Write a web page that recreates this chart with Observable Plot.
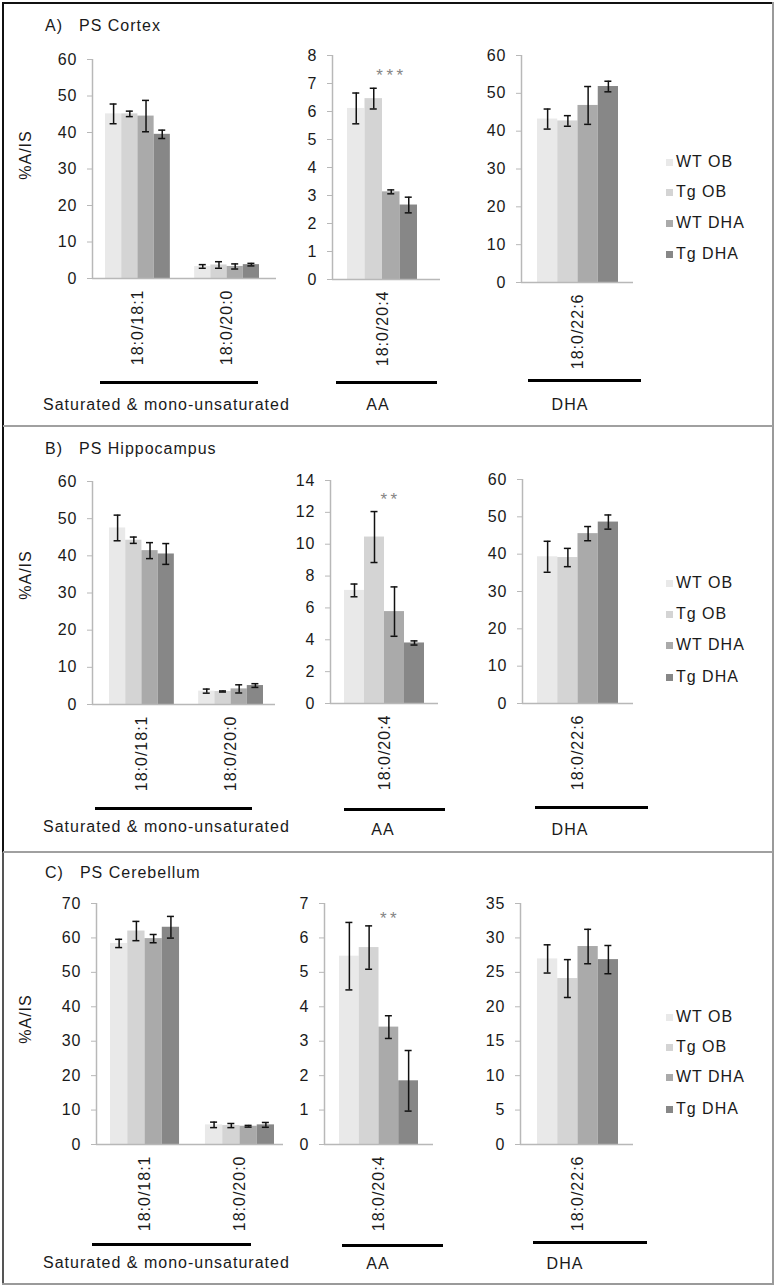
<!DOCTYPE html>
<html>
<head>
<meta charset="utf-8">
<script src="https://cdn.jsdelivr.net/npm/d3@7"></script>
<script src="https://cdn.jsdelivr.net/npm/@observablehq/plot@0.6"></script>
<style>
  html, body { margin: 0; padding: 0; background: #fff; }
  #fig { position: relative; width: 776px; height: 1287px; overflow: hidden; background: #fff;
         font-family: "Liberation Sans", Arial, sans-serif; color: #1a1a1a; }
  .txt { position: absolute; font-size: 16px; line-height: 16px; letter-spacing: 1px; white-space: nowrap; }
  .abs { position: absolute; }
</style>
</head>
<body>
<div id="fig"></div>
<script>
// ---------------- data ----------------
const series = ["WT OB", "Tg OB", "WT DHA", "Tg DHA"];
const seriesColors = ["#e9e9e9", "#d4d4d4", "#aaaaaa", "#878787"];
const panelLetters = ["A)", "B)", "C)"];
const regionNames = ["PS Cortex", "PS Hippocampus", "PS Cerebellum"];
const familyLabels = ["Saturated & mono-unsaturated", "AA", "DHA"];
const yAxisTitle = "%A/IS";
const satSpecies = ["18:0/18:1", "18:0/20:0"];
const aaSpecies = ["18:0/20:4"];
const dhaSpecies = ["18:0/22:6"];
const significance = ["***", "**", "**"];

const cortexTicks = [[0, 10, 20, 30, 40, 50, 60], [0, 1, 2, 3, 4, 5, 6, 7, 8], [0, 10, 20, 30, 40, 50, 60]];
const hippoTicks  = [[0, 10, 20, 30, 40, 50, 60], [0, 2, 4, 6, 8, 10, 12, 14], [0, 10, 20, 30, 40, 50, 60]];
const cerebTicks  = [[0, 10, 20, 30, 40, 50, 60, 70], [0, 1, 2, 3, 4, 5, 6, 7], [0, 5, 10, 15, 20, 25, 30, 35]];

const cortexSatMean = [[45.1, 45.1, 44.5, 39.5], [3.3, 3.7, 3.3, 3.8]];
const cortexSatErr  = [[2.7, 0.75, 4.3, 1.15], [0.5, 0.9, 0.7, 0.35]];
const cortexAAMean  = [[6.11, 6.46, 3.13, 2.66]];
const cortexAAErr   = [[0.55, 0.37, 0.07, 0.28]];
const cortexDHAMean = [[43.2, 42.7, 46.8, 51.8]];
const cortexDHAErr  = [[2.65, 1.4, 5.0, 1.4]];

const hippoSatMean = [[47.5, 44.2, 41.4, 40.5], [3.6, 3.5, 4.2, 5.1]];
const hippoSatErr  = [[3.45, 0.85, 2.15, 2.8], [0.55, 0.15, 1.1, 0.5]];
const hippoAAMean  = [[7.1, 10.45, 5.77, 3.8]];
const hippoAAErr   = [[0.4, 1.6, 1.55, 0.13]];
const hippoDHAMean = [[39.3, 39.1, 45.5, 48.6]];
const hippoDHAErr  = [[4.15, 2.45, 1.9, 1.9]];

const cerebSatMean = [[58.4, 62.0, 59.8, 63.1], [5.7, 5.5, 5.3, 5.7]];
const cerebSatErr  = [[1.2, 2.8, 1.2, 3.15], [0.8, 0.6, 0.25, 0.7]];
const cerebAAMean  = [[5.47, 5.72, 3.41, 1.85]];
const cerebAAErr   = [[0.98, 0.63, 0.33, 0.88]];
const cerebDHAMean = [[26.95, 24.1, 28.75, 26.85]];
const cerebDHAErr  = [[2.05, 2.75, 2.5, 2.05]];

// ---------------- layout (pixels) ----------------
const axisColor = "#b8b8b8";
const textColor = "#1a1a1a";
const FONT = "'Liberation Sans', Arial, sans-serif";

const panelLayout = [
  { titleY: 26, yTitleY: 155, legendY: [162, 192, 223, 254],
    charts: [
      {axisX: 92,  axisEnd: 276, y0: 278, ytop: 59, barStart: 105, barEnd: 259},
      {axisX: 332, axisEnd: 440, y0: 279, ytop: 55, barStart: 347, barEnd: 417, sigDx: 9, sigDy: 13},
      {axisX: 521, axisEnd: 633, y0: 282, ytop: 55, barStart: 537, barEnd: 618}
    ],
    lines: [[100, 258, 382], [336, 437, 382], [528, 641, 380]],
    famLabels: [[43, 405, "start"], [378, 405, "middle"], [570, 405, "middle"]] },
  { titleY: 449, yTitleY: 575, legendY: [583, 614, 645, 677],
    charts: [
      {axisX: 92,  axisEnd: 275, y0: 704, ytop: 481, barStart: 109, barEnd: 263},
      {axisX: 330, axisEnd: 438, y0: 703, ytop: 480, barStart: 344, barEnd: 424, sigDx: 6, sigDy: 12},
      {axisX: 522, axisEnd: 633, y0: 703, ytop: 479, barStart: 537, barEnd: 618}
    ],
    lines: [[95, 252, 808], [344, 445, 809], [535, 648, 807]],
    famLabels: [[43, 827, "start"], [383, 830, "middle"], [570, 830, "middle"]] },
  { titleY: 873, yTitleY: 1019, legendY: [1017, 1047, 1077, 1109],
    charts: [
      {axisX: 96,  axisEnd: 283, y0: 1144, ytop: 903, barStart: 110, barEnd: 274},
      {axisX: 324, axisEnd: 433, y0: 1144, ytop: 903, barStart: 339, barEnd: 418, sigDx: 11, sigDy: 8},
      {axisX: 520, axisEnd: 633, y0: 1144, ytop: 903, barStart: 537, barEnd: 618}
    ],
    lines: [[92, 251, 1244], [342, 443, 1245], [533, 647, 1242]],
    famLabels: [[43, 1263, "start"], [378, 1264, "middle"], [565, 1264, "middle"]] }
];

const panelData = [
  { ticks: cortexTicks, sets: [[satSpecies, cortexSatMean, cortexSatErr], [aaSpecies, cortexAAMean, cortexAAErr], [dhaSpecies, cortexDHAMean, cortexDHAErr]] },
  { ticks: hippoTicks,  sets: [[satSpecies, hippoSatMean, hippoSatErr], [aaSpecies, hippoAAMean, hippoAAErr], [dhaSpecies, hippoDHAMean, hippoDHAErr]] },
  { ticks: cerebTicks,  sets: [[satSpecies, cerebSatMean, cerebSatErr], [aaSpecies, cerebAAMean, cerebAAErr], [dhaSpecies, cerebDHAMean, cerebDHAErr]] }
];

const fig = document.getElementById("fig");

function addDiv(cls, style, text) {
  const d = document.createElement("div");
  d.className = cls;
  Object.assign(d.style, style);
  if (text != null) d.textContent = text;
  fig.appendChild(d);
  return d;
}

function makeChart(species, means, errs, ticks, L, sig) {
  const nS = series.length, gap = 1.5;
  const rows = [];
  species.forEach((sp, gi) => series.forEach((s, si) => {
    rows.push({species: sp, series: s, pos: gi * (nS + gap) + si, mean: means[gi][si], err: errs[gi][si]});
  }));
  const n = species.length * nS + (species.length - 1) * gap;
  const unit = (L.barEnd - L.barStart) / n;
  const padL = (L.barStart - L.axisX) / unit;
  const padR = (L.axisEnd - L.barEnd) / unit;
  const cap = 3.5 / unit;
  const ymax = ticks[ticks.length - 1];
  const ML = 45, MR = 10, MT = 30, MB = 100;
  const w = L.axisEnd - L.axisX, h = L.y0 - L.ytop;
  const centers = species.map((d, i) => i * (nS + gap) + nS / 2);

  const marks = [
    Plot.rect(rows, {x1: "pos", x2: d => d.pos + 1, y1: 0, y2: "mean", fill: "series"}),
    Plot.ruleY([0], {stroke: axisColor, strokeWidth: 1.5}),
    Plot.ruleX([-padL], {y1: 0, y2: ymax, stroke: axisColor, strokeWidth: 1.5}),
    Plot.axisY({ticks, label: null, tickSize: 5, tickPadding: 10, stroke: axisColor, fill: textColor, fontSize: 16, tickFormat: d => String(d)}),
    Plot.ruleX(rows, {x: d => d.pos + 0.5, y1: d => d.mean - d.err, y2: d => d.mean + d.err, stroke: "#111", strokeWidth: 1.5}),
    Plot.ruleY(rows, {y: d => d.mean + d.err, x1: d => d.pos + 0.5 - cap, x2: d => d.pos + 0.5 + cap, stroke: "#111", strokeWidth: 1.5}),
    Plot.ruleY(rows, {y: d => d.mean - d.err, x1: d => d.pos + 0.5 - cap, x2: d => d.pos + 0.5 + cap, stroke: "#111", strokeWidth: 1.5}),
    Plot.text(species, {x: (d, i) => centers[i], y: 0, text: d => d, rotate: -90, textAnchor: "end", dy: 11, fontSize: 16, fill: textColor})
  ];
  if (sig) {
    marks.push(Plot.text([sig], {x: centers[0], frameAnchor: "top", text: d => d, dx: L.sigDx, dy: L.sigDy,
      fontSize: 17, fill: "#858585"}));
  }
  const svg = Plot.plot({
    width: ML + w + MR, height: MT + h + MB,
    marginLeft: ML, marginRight: MR, marginTop: MT, marginBottom: MB,
    x: {type: "linear", domain: [-padL, n + padR], axis: null},
    y: {domain: [0, ymax], axis: null},
    color: {domain: series, range: seriesColors},
    style: {fontFamily: FONT, fontSize: "16px", color: textColor, background: "transparent", overflow: "visible", letterSpacing: "1px"},
    marks
  });
  const wrap = addDiv("abs", {left: (L.axisX - ML) + "px", top: (L.ytop - MT) + "px"});
  wrap.appendChild(svg);
  if (sig) {
    svg.querySelectorAll("text").forEach(t => { if (t.textContent === sig) t.style.letterSpacing = "3.5px"; });
  }
}

panelLayout.forEach((P, pi) => {
  // title
  const t = addDiv("txt", {left: "45px", top: (P.titleY - 8) + "px"});
  const a = document.createElement("span"); a.textContent = panelLetters[pi];
  const b = document.createElement("span"); b.textContent = regionNames[pi]; b.style.marginLeft = "16px";
  t.appendChild(a); t.appendChild(b);
  // y-axis title
  addDiv("txt", {left: "26px", top: P.yTitleY + "px", transform: "translate(-50%,-50%) rotate(-90deg)"}, yAxisTitle);
  // charts
  P.charts.forEach((L, ci) => {
    const [sp, m, e] = panelData[pi].sets[ci];
    makeChart(sp, m, e, panelData[pi].ticks[ci], L, ci === 1 ? significance[pi] : null);
  });
  // family underline bars + labels
  P.lines.forEach(([x1, x2, y]) => addDiv("abs", {left: x1 + "px", top: (y - 1) + "px", width: (x2 - x1) + "px", height: "3px", background: "#000"}));
  P.famLabels.forEach(([x, y, anchor], fi) => {
    const d = addDiv("txt", {left: x + "px", top: (y - 8) + "px"}, familyLabels[fi]);
    if (anchor === "middle") d.style.transform = "translateX(-50%)";
  });
  // legend
  series.forEach((s, si) => {
    const y = P.legendY[si];
    addDiv("abs", {left: "666px", top: (y - 3.5) + "px", width: "7px", height: "7px", background: seriesColors[si]});
    addDiv("txt", {left: "676px", top: (y - 8) + "px"}, s);
  });
});

// frame borders
addDiv("abs", {left: "2px", top: "2px", width: "2px", height: "850px", background: "#111"});
addDiv("abs", {left: "2px", top: "852px", width: "2px", height: "433px", background: "#555"});
addDiv("abs", {left: "2px", top: "2px", width: "772px", height: "2px", background: "#111"});
addDiv("abs", {left: "772px", top: "2px", width: "2px", height: "1283px", background: "#9a9a9a"});
addDiv("abs", {left: "2px", top: "1283px", width: "772px", height: "2px", background: "#9a9a9a"});
addDiv("abs", {left: "3px", top: "425px", width: "770px", height: "2px", background: "#a0a0a0"});
addDiv("abs", {left: "3px", top: "851px", width: "770px", height: "2px", background: "#a0a0a0"});
</script>
</body>
</html>
